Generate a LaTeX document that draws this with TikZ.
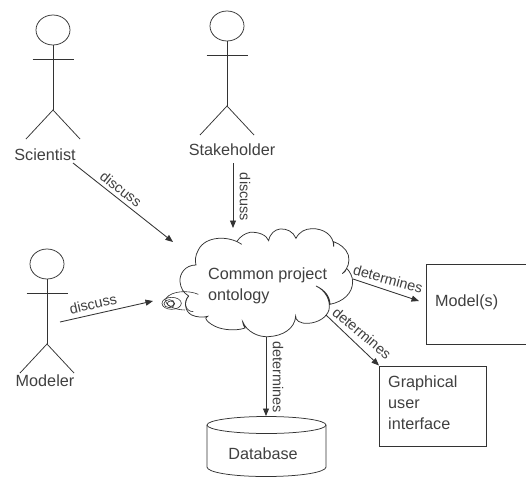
\documentclass[tikz,border=0pt]{standalone}
\usepackage{fontspec}
\setmainfont{Liberation Sans}
\usetikzlibrary{arrows.meta}
\definecolor{ink}{HTML}{333333}
\definecolor{txt}{HTML}{404040}
\tikzset{
  ln/.style={draw=ink,line width=0.75pt},
  conn/.style={draw=ink,line width=0.85pt,-{Triangle[length=7.5pt,width=6pt]}},
  lab/.style={text=txt,font=\fontsize{16.2}{20}\selectfont,inner sep=0pt},
  edgelab/.style={text=txt,font=\fontsize{14.4}{17}\selectfont,inner sep=0pt},
  boxn/.style={ln,rectangle,inner sep=0pt,anchor=north west,fill=white},
  actor/.pic={
    \draw[ln] (0,0) ellipse[x radius=17,y radius=15];
    \draw[ln] (0,15) -- (0,80);
    \draw[ln] (-20.5,29) -- (20.5,29);
    \draw[ln] (-27,109) -- (0,80) -- (27,109);
  }
}
\begin{document}
\begin{tikzpicture}[x=1pt,y=-1pt]
\useasboundingbox (0,0) rectangle (526,476);
\fill[white] (0,0) rectangle (526,476);
% actors
\pic at (53,30) {actor};
\pic at (227,26) {actor};
\pic at (47,264) {actor};
\node[lab] (scientist) at (45,155) {Scientist};
\node[lab] (stakeholder) at (232,150) {Stakeholder};
\node[lab] (modeler) at (45,381) {Modeler};
% boxes
\node[boxn,minimum width=101pt,minimum height=80pt] (model) at (426,264) {};
\node[boxn,minimum width=107pt,minimum height=80pt] (gui) at (379,365.5) {};
\node[lab,anchor=west] (modeltext) at (435,302) {Model(s)};
\node[lab,anchor=west,align=left] (guitext) at (388,403) {Graphical\\[1.1pt]user\\[1.1pt]interface};
% database
\draw[ln,fill=white] (207,425) -- (207,467) .. controls (207,472) and (230,476.5) .. (266,476.5)
  .. controls (302,476.5) and (326,472) .. (326,467) -- (326,425);
\draw[ln,fill=white] (266.5,425) ellipse[x radius=59.5,y radius=8.5];
\node[lab] (database) at (263,454) {Database};
% cloud
\begin{scope}[shift={(130,200)},x=0.3333pt,y=-0.3333pt]
\fill[white] (260,130) -- (420,100) -- (610,110) -- (660,240) -- (590,340) -- (410,410) -- (230,360) -- (165,320) -- (150,240) -- cycle;
\draw[ln,fill=white] (335,133) .. controls (295,105) and (225,108) .. (205,150) .. controls (195,168) and (195,182) .. (198,195)
  .. controls (165,195) and (148,222) .. (150,245) .. controls (152,265) and (160,278) .. (176,288)
  .. controls (160,305) and (165,335) .. (185,345) .. controls (200,352) and (220,353) .. (233,349)
  .. controls (218,352) and (235,372) .. (265,383) .. controls (295,393) and (330,390) .. (345,384)
  .. controls (340,375) and (338,370) .. (338,365) .. controls (350,395) and (385,412) .. (415,410)
  .. controls (460,408) and (495,385) .. (497,348) .. controls (495,360) and (510,372) .. (535,370)
  .. controls (565,368) and (590,352) .. (597,330) .. controls (603,300) and (585,270) .. (558,258)
  .. controls (585,270) and (600,290) .. (600,313) .. controls (640,305) and (668,280) .. (668,245)
  .. controls (668,230) and (660,215) .. (650,205) .. controls (648,212) and (643,218) .. (637,221)
  .. controls (655,205) and (660,185) .. (655,165) .. controls (648,145) and (630,132) .. (611,125)
  .. controls (612,130) and (612,135) .. (611,140) .. controls (612,105) and (580,85) .. (545,86)
  .. controls (525,87) and (508,95) .. (498,115) .. controls (490,95) and (470,85) .. (450,87)
  .. controls (435,89) and (420,100) .. (416,122) .. controls (410,105) and (385,95) .. (360,97)
  .. controls (345,100) and (330,110) .. (321,124);
\draw[ln,line width=0.6pt] (205,283) .. controls (175,270) and (125,272) .. (108,295) .. controls (100,315) and (135,330) .. (165,330);
\draw[ln,line width=0.6pt] (176,288) .. controls (160,305) and (165,335) .. (190,335);
\draw[ln,line width=0.6pt] (125,310) ellipse[x radius=29,y radius=18];
\draw[ln,line width=0.6pt] (118,311) ellipse[x radius=16,y radius=12];
\draw[ln,line width=0.6pt] (122,311) ellipse[x radius=10,y radius=8];
\end{scope}
\node[lab,anchor=base west,align=left] (cloudtext) at (208,279) {Common project};
\node[lab,anchor=base west] (cloudtext2) at (208,300) {ontology};
% connector ends
\coordinate (e1) at (173,242);
\coordinate (s1) at (73,163);
\coordinate (s2) at (233,163);
\coordinate (e2) at (233,228);
\coordinate (s3) at (60,322);
\coordinate (e3) at (153,301);
\coordinate (s4) at (266,337);
\coordinate (e4) at (266,416);
\coordinate (s5) at (353,279);
\coordinate (e5) at (419,301);
\coordinate (s6) at (326,315);
\draw[conn] (s1) -- (e1);
\draw[conn] (s2) -- (e2);
\draw[conn] (s3) -- (e3);
\draw[conn] (s4) -- (e4);
\draw[conn] (s5) -- (e5);
\draw[conn] (s6) -- (gui.north west);
% connector labels
\node[edgelab,rotate=-38] (l1) at (121,189) {discuss};
\node[edgelab,rotate=-90] (l2) at (245,197) {discuss};
\node[edgelab,rotate=13] (l3) at (93,304) {discuss};
\node[edgelab,rotate=-90] (l4) at (278,377) {determines};
\node[edgelab,rotate=-15] (l5) at (388,279) {determines};
\node[edgelab,rotate=-40] (l6) at (362,333) {determines};
\end{tikzpicture}
\end{document}
